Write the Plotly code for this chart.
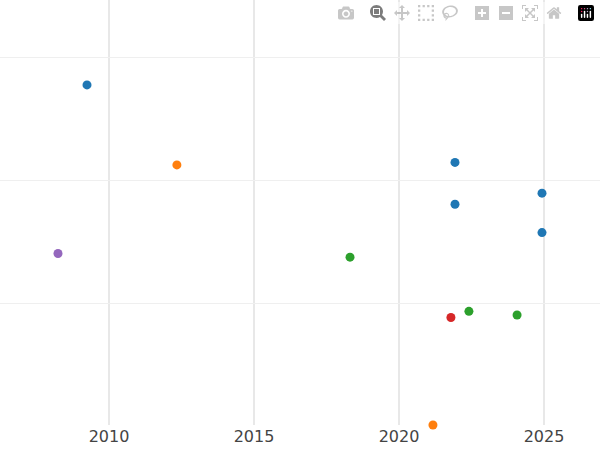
import plotly.graph_objects as go

# series: (years, values) per colour group
blue_x = [2009.24, 2021.93, 2021.93, 2024.93, 2024.93]
blue_y = [27.8, 21.5, 18.1, 19.0, 15.8]
orange_x = [2012.34, 2021.17]
orange_y = [21.3, 0.16]
green_x = [2018.31, 2022.41, 2024.07]
green_y = [13.8, 9.4, 9.1]
red_x = [2021.79]
red_y = [8.9]
purple_x = [2008.24]
purple_y = [14.1]

groups = [
    (blue_x, blue_y, "#1f77b4"),
    (orange_x, orange_y, "#ff7f0e"),
    (green_x, green_y, "#2ca02c"),
    (red_x, red_y, "#d62728"),
    (purple_x, purple_y, "#9467bd"),
]

fig = go.Figure()
for xs, ys, color in groups:
    fig.add_trace(go.Scatter(x=xs, y=ys, mode="markers",
                             marker=dict(color=color, size=9), cliponaxis=False))

fig.update_layout(
    width=600, height=450,
    margin=dict(l=0, r=0, t=0, b=25),
    plot_bgcolor="white", paper_bgcolor="white",
    showlegend=False,
    font=dict(family="DejaVu Sans", size=16, color="#444"),
)
fig.update_xaxes(range=[2006.24, 2026.93], tickvals=[2010, 2015, 2020, 2025],
                 showgrid=True, gridcolor="#e8e8e8", gridwidth=2, zeroline=False)
fig.update_yaxes(range=[0.16, 34.7], tickvals=[10, 20, 30], showticklabels=False,
                 showgrid=True, gridcolor="#efefef", zeroline=False)

fig.write_html("out.html",
               post_script="document.body.style.margin='0';document.body.style.overflow='hidden';")
